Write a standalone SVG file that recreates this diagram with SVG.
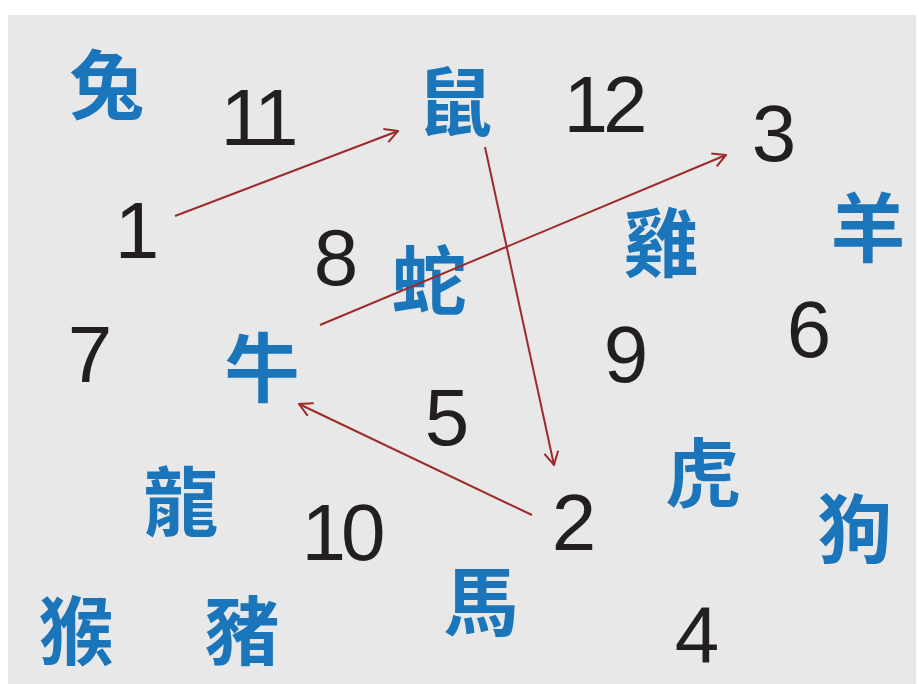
<svg xmlns="http://www.w3.org/2000/svg" width="919" height="684" viewBox="0 0 919 684">
<style>
.num{font-family:"Liberation Sans",Arial,sans-serif;font-size:80px;fill:#231f20;text-anchor:middle}
.tight{letter-spacing:-5px}
.zh{font-family:"Noto Sans CJK TC","Noto Sans CJK SC",sans-serif;font-size:75px;font-weight:bold;fill:#1b75bb;text-anchor:middle}
.arr{stroke:#9e2a2b;stroke-width:2;fill:none;marker-end:url(#ah)}
</style>
<defs>
<marker id="ah" viewBox="0 0 16 16" refX="15" refY="8" markerWidth="16" markerHeight="16" markerUnits="userSpaceOnUse" orient="auto">
<path d="M2,1 L15,8 L2,15" fill="none" stroke="#9e2a2b" stroke-width="2"/>
</marker>
</defs>
<rect x="0" y="0" width="919" height="684" fill="#ffffff"/>
<rect x="8" y="15" width="908" height="669" fill="#e8e8e8"/>
<g id="n-rabbit"><text class="zh" x="107" y="113">兔</text></g>
<g id="n-11"><text class="num tight" x="257" y="145">11</text></g>
<g id="n-rat"><text class="zh" x="455" y="130">鼠</text></g>
<g id="n-12"><text class="num tight" x="603" y="132">12</text></g>
<g id="n-3"><text class="num" x="774" y="161">3</text></g>
<g id="n-1"><text class="num" x="137" y="258">1</text></g>
<g id="n-8"><text class="num" x="336" y="285">8</text></g>
<g id="n-snake"><text class="zh" x="429" y="309">蛇</text></g>
<g id="n-rooster"><text class="zh" x="661" y="271">雞</text></g>
<g id="n-goat"><text class="zh" x="868" y="256">羊</text></g>
<g id="n-6"><text class="num" x="809" y="357">6</text></g>
<g id="n-9"><text class="num" x="626" y="382">9</text></g>
<g id="n-7"><text class="num" x="90" y="382">7</text></g>
<g id="n-ox"><text class="zh" x="262" y="396">牛</text></g>
<g id="n-5"><text class="num" x="447" y="445">5</text></g>
<g id="n-tiger"><text class="zh" x="703" y="501">虎</text></g>
<g id="n-dragon"><text class="zh" x="181" y="530">龍</text></g>
<g id="n-10"><text class="num tight" x="341" y="560">10</text></g>
<g id="n-2"><text class="num" x="574" y="550">2</text></g>
<g id="n-dog"><text class="zh" x="855" y="557">狗</text></g>
<g id="n-horse"><text class="zh" x="481" y="630">馬</text></g>
<g id="n-4"><text class="num" x="697" y="662">4</text></g>
<g id="n-monkey"><text class="zh" x="76" y="659">猴</text></g>
<g id="n-pig"><text class="zh" x="242" y="659">豬</text></g>
<g id="connectors">
<line class="arr" x1="175" y1="216" x2="398" y2="131"/>
<line class="arr" x1="485" y1="147" x2="554" y2="465"/>
<line class="arr" x1="320" y1="325" x2="726" y2="155"/>
<line class="arr" x1="532" y1="515" x2="299" y2="404"/>
</g>
</svg>
